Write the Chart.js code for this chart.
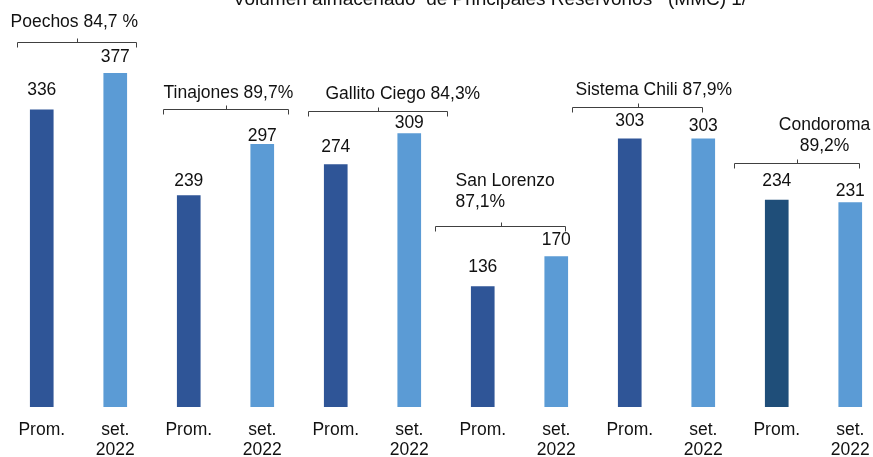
<!DOCTYPE html>
<html>
<head>
<meta charset="utf-8">
<script src="https://cdn.jsdelivr.net/npm/chart.js@4"></script>
<style>
    html, body { margin: 0; padding: 0; background: #ffffff; overflow: hidden; }
    #wrap { width: 892px; height: 473px; }
</style>
</head>
<body>
<div id="wrap"><canvas id="chart" width="892" height="473"></canvas></div>
<script>
// data (MMC)
const reservoirs = [
    ['Poechos 84,7 %'],
    ['Tinajones 89,7%'],
    ['Gallito Ciego 84,3%'],
    ['San Lorenzo', '87,1%'],
    ['Sistema Chili 87,9%'],
    ['Condoroma', '89,2%']
];
const periodLabels = ['Prom.', ['set.', '2022']];
const promValues = [336, 239, 274, 136, 303, 234];
const setValues = [377, 297, 309, 170, 303, 231];
const chartTitle = 'Volumen almacenado  de Principales Reservorios   (MMC) 1/';

// layout of the reservoir brackets (px offsets from bar centres, level in MMC)
const bracketSpan = [[-25, 21], [-26, 26], [-28, 38], [-48, 9], [-58, -1], [-43, 9]];
const bracketLevel = [412, 337, 335, 205, 339, 276];
const labelShift = [[-7, 20, 'left'], [0, 16, 'left'], [17, 17, 'left'], [20, 24, 'left'], [3, 17, 'left'], [90, 17, 'center']];
// gap (px) between bar top and the middle of its value label, as placed in the source
const valueGap = [19.5, 16.5, 14, 8.5, 17.5, 10.5, 19, 16, 17.5, 12.5, 18.5, 11.5];

const PROM_COLOR = '#2F5597';
const SET_COLOR = '#5B9BD5';
const CONDOROMA_PROM = '#1F4E79';
const FONT = '"Liberation Sans", Arial, sans-serif';

// build the 12 bars, two per reservoir
const labels = [];
const values = [];
const colors = [];
reservoirs.forEach((r, i) => {
    labels.push(periodLabels[0]);
    values.push(promValues[i]);
    colors.push(i === 5 ? CONDOROMA_PROM : PROM_COLOR);
    labels.push(periodLabels[1]);
    values.push(setValues[i]);
    colors.push(SET_COLOR);
});

const annotations = {
    id: 'annotations',
    afterDatasetsDraw(chart) {
        const ctx = chart.ctx;
        const x = chart.scales.x;
        const y = chart.scales.y;
        ctx.save();
        ctx.fillStyle = '#111111';
        ctx.font = '17.5px ' + FONT;

        // value labels above bars
        const meta = chart.getDatasetMeta(0);
        ctx.textAlign = 'center';
        ctx.textBaseline = 'middle';
        meta.data.forEach((bar, i) => {
            ctx.fillText(String(values[i]), bar.x, bar.y - valueGap[i]);
        });

        // brackets with reservoir names
        ctx.strokeStyle = '#404040';
        ctx.lineWidth = 1;
        reservoirs.forEach((name, i) => {
            const left = Math.round(x.getPixelForValue(i * 2) + bracketSpan[i][0]) + 0.5;
            const right = Math.round(x.getPixelForValue(i * 2 + 1) + bracketSpan[i][1]) + 0.5;
            const by = Math.round(y.getPixelForValue(bracketLevel[i])) + 0.5;
            const mid = Math.round((left + right) / 2) + 0.5;
            ctx.beginPath();
            ctx.moveTo(left, by + 5);
            ctx.lineTo(left, by);
            ctx.lineTo(right, by);
            ctx.lineTo(right, by + 5);
            ctx.moveTo(mid, by);
            ctx.lineTo(mid, by - 4);
            ctx.stroke();

            const [dx, rise, align] = labelShift[i];
            ctx.textAlign = align;
            ctx.textBaseline = 'middle';
            const lastY = by - rise;
            name.forEach((line, k) => {
                ctx.fillText(line, left + dx, lastY - (name.length - 1 - k) * 21);
            });
        });

        // title, cut off at the top like the source
        ctx.font = '19px ' + FONT;
        ctx.textAlign = 'center';
        ctx.textBaseline = 'alphabetic';
        ctx.fillText(chartTitle, 490, 5);
        ctx.restore();
    }
};

new Chart(document.getElementById('chart'), {
    type: 'bar',
    data: {
        labels: labels,
        datasets: [{
            data: values,
            backgroundColor: colors,
            borderWidth: 0,
            barThickness: 23
        }]
    },
    options: {
        responsive: false,
        animation: false,
        layout: { padding: { left: 5, right: 5, top: 0, bottom: 0 } },
        plugins: {
            legend: { display: false },
            tooltip: { enabled: false }
        },
        scales: {
            x: {
                grid: { display: false, drawTicks: false },
                border: { display: false },
                ticks: {
                    padding: 13,
                    color: '#111111',
                    maxRotation: 0,
                    autoSkip: false,
                    font: { family: FONT, size: 17.5, lineHeight: 1.143 }
                }
            },
            y: {
                display: false,
                min: 0,
                max: 460
            }
        }
    },
    plugins: [annotations]
});
</script>
</body>
</html>
